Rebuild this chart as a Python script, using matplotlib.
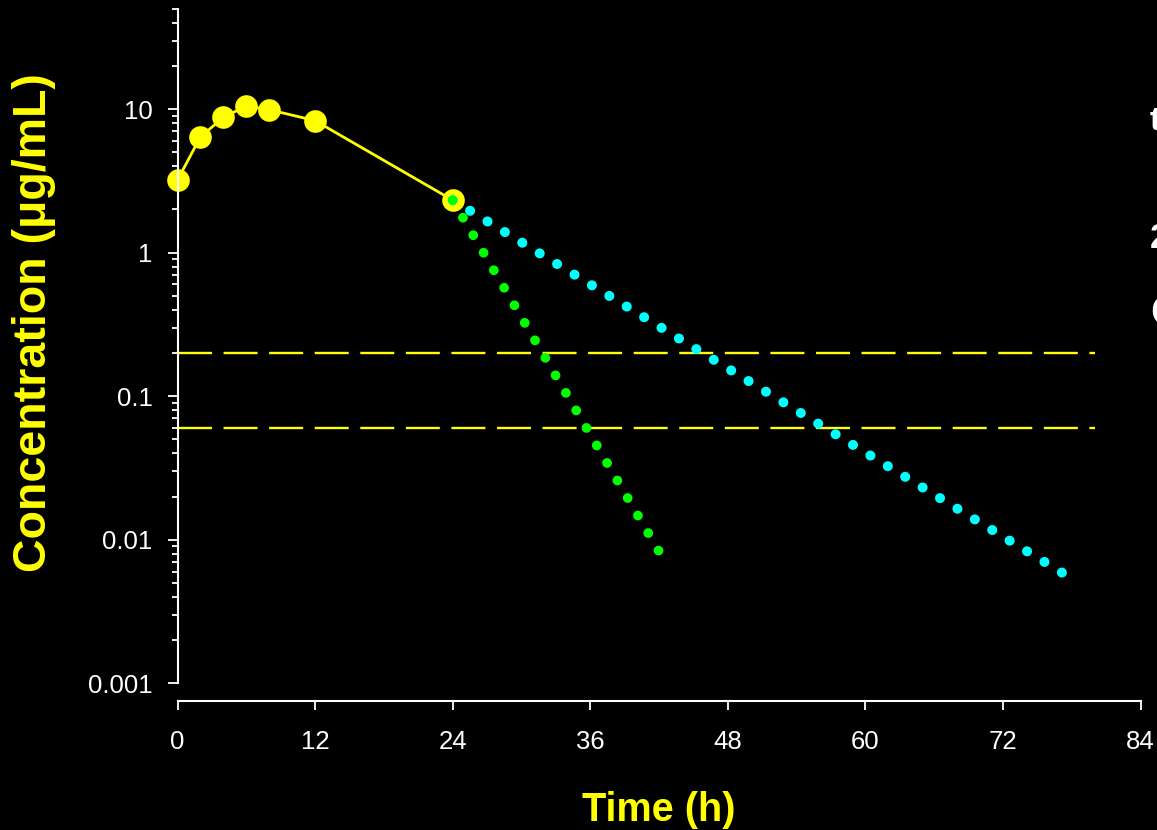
import matplotlib
matplotlib.use("Agg")
import matplotlib.pyplot as plt
from matplotlib.ticker import LogLocator, NullFormatter

plt.rcParams['font.family'] = ['Liberation Sans', 'DejaVu Sans']

# measured concentrations (yellow)
times = [0, 2, 4, 6, 8, 12, 24]
conc = [3.2, 6.4, 8.75, 10.5, 9.9, 8.3, 2.32]

# projected decay after the last sample
fast_t = [24, 42]
fast_c = [2.32, 0.0083]
slow_t = [24, 77.3]
slow_c = [2.32, 0.0058]

# horizontal reference levels
levels = [0.2, 0.06]
level_t = [0, 80]

xticks = [0, 12, 24, 36, 48, 60, 72, 84]
yticks = [0.001, 0.01, 0.1, 1, 10]
ytick_labels = ['0.001', '0.01', '0.1', '1', '10']

W, H = 1157, 830
fig = plt.figure(figsize=(W / 100, H / 100), dpi=100, facecolor='black')
ax = fig.add_axes([177.5 / W, (H - 683.3) / H, 963 / W, (683.3 - 8.7) / H])
ax.set_facecolor('black')

# reference levels
for lv in levels:
    ax.plot(level_t, [lv, lv], color='#FFFF00', lw=1.7,
            linestyle=(0, (14.4, 4.9)), clip_on=False, zorder=1)

# measured curve
ax.plot(times, conc, color='#FFFF00', lw=2, marker='o', markersize=16.3,
        markeredgewidth=0, clip_on=False, zorder=2)

# decay projections, drawn as round dots
ax.plot(slow_t, slow_c, color='#00FFFF', lw=7.2, linestyle=(0, (0.01, 2.03)),
        dash_capstyle='round', clip_on=False, zorder=3)
ax.plot(fast_t, fast_c, color='#00FF00', lw=7.0, linestyle=(0, (0.01, 2.08)),
        dash_capstyle='round', clip_on=False, zorder=4)

ax.set_yscale('log')
ax.set_ylim(0.001, 50)
ax.set_xlim(0, 84)

ax.set_xticks(xticks)
ax.set_xticklabels([str(t) for t in xticks])
ax.set_yticks(yticks)
ax.set_yticklabels(ytick_labels)
ax.yaxis.set_minor_locator(LogLocator(base=10, subs=range(2, 10)))
ax.yaxis.set_minor_formatter(NullFormatter())

for s in ['top', 'right']:
    ax.spines[s].set_visible(False)
for s in ['left', 'bottom']:
    ax.spines[s].set_color('white')
    ax.spines[s].set_linewidth(1.5)
ax.spines['bottom'].set_position(('outward', 12.5))

ax.tick_params(axis='both', which='major', colors='white', width=1.3,
               labelsize=18.5)
ax.tick_params(axis='y', which='major', length=7, pad=11)
ax.tick_params(axis='x', which='major', length=6.5, pad=14.5)
ax.tick_params(axis='y', which='minor', colors='white', width=1.3, length=4.5)

# axis titles
fig.text(46.5 / W, 1 - 322.5 / H, 'Concentration (μg/mL)', color='#FFFF00',
         fontsize=33.5, fontweight='bold', rotation=90, rotation_mode='anchor',
         ha='center', va='baseline')
fig.text(658.7 / W, 1 - 820.7 / H, 'Time (h)', color='#FFFF00',
         fontsize=28.5, fontweight='bold', ha='center', va='baseline')

# text cut off at the right edge, as in the source picture
fig.text(1150 / W, 1 - 130 / H, 't', color='white', fontsize=24,
         fontweight='bold', ha='left', va='baseline')
fig.text(1150 / W, 1 - 248 / H, '2', color='white', fontsize=25,
         fontweight='bold', ha='left', va='baseline')
fig.text(1150 / W, 1 - 325 / H, 'C', color='white', fontsize=30,
         fontweight='bold', ha='left', va='baseline')

fig.savefig('out.png', dpi=100, facecolor='black')
